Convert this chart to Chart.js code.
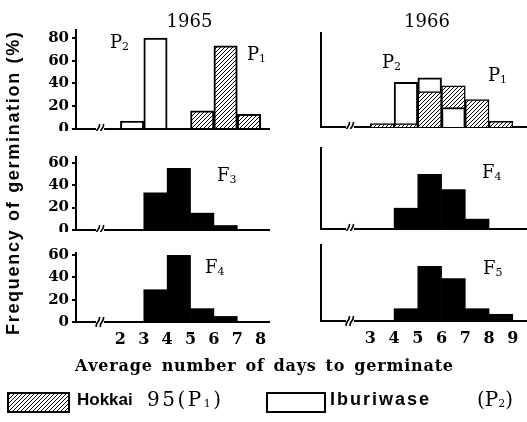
<!DOCTYPE html>
<html>
<head>
<meta charset="utf-8">
<script src="https://cdn.jsdelivr.net/npm/chart.js@4.4.0/dist/chart.umd.min.js"></script>
<style>
  html, body { margin: 0; padding: 0; background: #fff; }
  #fig { position: relative; width: 527px; height: 422px; overflow: hidden; background: #fff; }
  #fig canvas { position: absolute; }
  #ink { left: 0; top: 0; pointer-events: none; }
</style>
</head>
<body>
<div id="fig">
  <canvas id="pA"></canvas>
  <canvas id="pB"></canvas>
  <canvas id="pC"></canvas>
  <canvas id="pD"></canvas>
  <canvas id="pE"></canvas>
  <canvas id="pF"></canvas>
  <canvas id="ink" width="527" height="422"></canvas>
</div>
<script>
// Frequency (%) of seeds by average number of days to germinate, per one-day class.
// Each class is identified by its starting day.
const days1965 = [2, 3, 4, 5, 6, 7];
const days1966 = [3, 4, 5, 6, 7, 8];
const dayTicks1965 = [2, 3, 4, 5, 6, 7, 8];
const dayTicks1966 = [3, 4, 5, 6, 7, 8, 9];
const pctTicksParents = [0, 20, 40, 60, 80];
const pctTicksProgeny = [0, 20, 40, 60];

const hokkai1965 = [null, null, null, 16, 73, 13];
const iburi1965  = [7, 80, null, null, null, null];
const f3_1965    = [null, 33, 55, 15, 4, null];
const f4_1965    = [null, 29, 60, 12, 5, null];

const hokkai1966 = [3, 3, 31, 36, 24, 5];
const iburi1966  = [null, 39, 43, 17, null, null];
const f4_1966    = [null, 19, 50, 36, 9, null];
const f5_1966    = [null, 11, 49, 38, 11, 6];

const INK = '#000';
const SERIF = '"DejaVu Serif", serif';
const SANS = '"Liberation Sans", Arial, sans-serif';

// diagonal hatching used for Hokkai 95
function hatchPattern(ctx) {
  const tile = document.createElement('canvas');
  tile.width = tile.height = 4;
  const c = tile.getContext('2d');
  c.fillStyle = '#fff';
  c.fillRect(0, 0, 4, 4);
  c.strokeStyle = INK;
  c.lineWidth = 1;
  c.beginPath();
  c.moveTo(0, 4); c.lineTo(4, 0);
  c.moveTo(-1, 1); c.lineTo(1, -1);
  c.moveTo(3, 5); c.lineTo(5, 3);
  c.stroke();
  return ctx.createPattern(tile, 'repeat');
}

// broken-axis mark on the day axis
const axisBreak = {
  id: 'axisBreak',
  afterDraw(chart, _args, opts) {
    const { ctx, chartArea } = chart;
    const x = chart.scales.x.getPixelForValue(opts.at);
    const y = chartArea.bottom;
    ctx.save();
    ctx.fillStyle = '#fff';
    ctx.fillRect(x - 4, y - 2, 8, 4);
    ctx.strokeStyle = INK;
    ctx.lineWidth = 1.6;
    for (const dx of [-2.2, 1.8]) {
      ctx.beginPath();
      ctx.moveTo(x + dx - 1.5, y + 5);
      ctx.bezierCurveTo(x + dx - 3, y + 1, x + dx + 3, y - 1, x + dx + 1.5, y - 5);
      ctx.stroke();
    }
    ctx.restore();
  }
};

const columns = {
  y1965: { left: 0,   width: 270, axisW: 76, min: 0.1,  max: 8.4, brk: 1.13, days: days1965, ticks: dayTicks1965, pctLabels: true },
  y1966: { left: 290, width: 237, axisW: 31, min: 0.92, max: 9.6, brk: 2.14, days: days1966, ticks: dayTicks1966, pctLabels: false }
};

const frontOf = (a, b) => a.map((v, i) => (v != null && b[i] != null && v < b[i]) ? v : null);

const panels = [
  { id: 'pA', col: 'y1965', top: 30,  base: 129,   ymax: 87, pct: pctTicksParents, dayLabels: false,
    series: [ { data: iburi1965, kind: 'open', order: 2 }, { data: hokkai1965, kind: 'hatch', order: 1, bw: 2 } ] },
  { id: 'pB', col: 'y1966', top: 33,  base: 127,   ymax: 82, pct: pctTicksParents, dayLabels: false,
    series: [ { data: iburi1966, kind: 'open', order: 3 },
              { data: hokkai1966, kind: 'hatch', order: 2, bw: 1.5 },
              { data: frontOf(iburi1966, hokkai1966), kind: 'open', order: 1 } ] },
  { id: 'pC', col: 'y1965', top: 157, base: 229.5, ymax: 65, pct: pctTicksProgeny, dayLabels: false,
    series: [ { data: f3_1965, kind: 'solid', order: 1 } ] },
  { id: 'pD', col: 'y1966', top: 148, base: 229,   ymax: 74, pct: pctTicksProgeny, dayLabels: false,
    series: [ { data: f4_1966, kind: 'solid', order: 1 } ] },
  { id: 'pE', col: 'y1965', top: 253, base: 322,   ymax: 62, pct: pctTicksProgeny, dayLabels: true,
    series: [ { data: f4_1965, kind: 'solid', order: 1 } ] },
  { id: 'pF', col: 'y1966', top: 245, base: 321,   ymax: 68, pct: pctTicksProgeny, dayLabels: true,
    series: [ { data: f5_1966, kind: 'solid', order: 1 } ] }
];

const PAD_TOP = 10;

panels.forEach(p => {
  const col = columns[p.col];
  const xH = p.dayLabels ? 28 : 2;
  const canvas = document.getElementById(p.id);
  const h = Math.round(p.base - p.top) + PAD_TOP + xH;
  canvas.width = col.width;
  canvas.height = h;
  canvas.style.left = col.left + 'px';
  canvas.style.top = Math.round(p.top - PAD_TOP) + 'px';
  const ctx = canvas.getContext('2d');
  const hatch = hatchPattern(ctx);

  const datasets = p.series.map(s => {
    const pts = [];
    col.days.forEach((d, i) => { if (s.data[i] != null) pts.push({ x: d + 0.5, y: s.data[i] }); });
    const style = s.kind === 'solid'
      ? { backgroundColor: INK, borderColor: INK, borderWidth: 0 }
      : s.kind === 'hatch'
        ? { backgroundColor: hatch, borderColor: INK, borderWidth: s.bw }
        : { backgroundColor: '#fff', borderColor: INK, borderWidth: 2 };
    return Object.assign({ data: pts, order: s.order }, style);
  });

  new Chart(ctx, {
    type: 'bar',
    data: { datasets },
    options: {
      responsive: false,
      animation: false,
      devicePixelRatio: 1,
      layout: { padding: { top: PAD_TOP, left: 0, right: 0, bottom: 0 } },
      datasets: { bar: { grouped: false, barPercentage: 1, categoryPercentage: 1, borderSkipped: 'bottom' } },
      plugins: { legend: { display: false }, tooltip: { enabled: false }, axisBreak: { at: col.brk } },
      scales: {
        x: {
          type: 'linear', min: col.min, max: col.max, offset: false,
          grid: { display: false, drawTicks: false },
          border: { color: INK, width: 2 },
          ticks: { display: p.dayLabels, color: INK, padding: 8, autoSkip: false, maxRotation: 0,
                   font: { family: SERIF, size: 16, weight: 'bold' } },
          afterBuildTicks: s => { s.ticks = col.ticks.map(v => ({ value: v })); },
          afterFit: s => { s.height = xH; s.paddingLeft = 0; s.paddingRight = 0; }
        },
        y: {
          min: 0, max: p.ymax,
          grid: { display: col.pctLabels, drawOnChartArea: false, drawTicks: true, tickLength: 4, color: INK, lineWidth: 2 },
          border: { color: INK, width: 2 },
          ticks: { display: col.pctLabels, color: INK, padding: 3,
                   font: { family: SERIF, size: 15, weight: 'bold' } },
          afterBuildTicks: s => { s.ticks = p.pct.map(v => ({ value: v })); },
          afterFit: s => { s.width = col.axisW; s.paddingTop = 0; s.paddingBottom = 0; }
        }
      }
    },
    plugins: [axisBreak]
  });
});

// ---- titles, panel labels, axis titles and key ----
const ink = document.getElementById('ink').getContext('2d');
ink.fillStyle = INK;

// parts: [text, font, dy]; o.ls = letter spacing, o.width = total width,
// with o.words the extra width goes into the word gaps only
function drawText(ctx, parts, x, y, o = {}) {
  const glyphs = [];
  for (const [t, font, dy = 0] of parts) {
    ctx.font = font;
    for (const ch of t) glyphs.push({ ch, font, dy, w: ctx.measureText(ch).width });
  }
  const ls = o.ls || 0;
  const n = glyphs.length;
  const natural = glyphs.reduce((s, g) => s + g.w, 0) + ls * (n - 1);
  const total = o.width || natural;
  const extra = total - natural;
  if (o.width) {
    if (o.words) {
      const sp = glyphs.filter(g => g.ch === ' ');
      sp.forEach(g => { g.w += extra / sp.length; });
    } else if (n > 1) {
      glyphs.slice(0, -1).forEach(g => { g.w += extra / (n - 1); });
    }
  }
  let cx = o.align === 'center' ? x - total / 2 : x;
  ctx.textAlign = 'left';
  ctx.textBaseline = 'alphabetic';
  for (const g of glyphs) {
    ctx.font = g.font;
    if (g.ch !== ' ') ctx.fillText(g.ch, cx, y + g.dy);
    cx += g.w + ls;
  }
}

const F_TITLE = `18px ${SERIF}`;
drawText(ink, [['1965', F_TITLE]], 189.5, 27, { align: 'center' });
drawText(ink, [['1966', F_TITLE]], 427, 27, { align: 'center' });

const F_P = `18px ${SERIF}`;
const F_SUB = `11px ${SERIF}`;
const tag = (letter, sub, x, y) => drawText(ink, [[letter, F_P], [sub, F_SUB, 2]], x, y);
tag('P', '2', 110, 48);
tag('P', '1', 247, 60);
tag('P', '2', 382, 68);
tag('P', '1', 488, 81);
tag('F', '3', 217, 180.5);
tag('F', '4', 482, 177.5);
tag('F', '4', 205, 273);
tag('F', '5', 483, 274);

// day axis title
drawText(ink, [['Average number of days to germinate', `bold 16px ${SERIF}`]], 264, 371,
         { align: 'center', width: 378, ls: 0.8, words: true });

// percentage axis title
ink.save();
ink.translate(19, 183.5);
ink.rotate(-Math.PI / 2);
drawText(ink, [['Frequency of germination (%)', `bold 18px ${SANS}`]], 0, 0,
         { align: 'center', width: 303, ls: 1.7, words: true });
ink.restore();

// key
ink.save();
ink.fillStyle = hatchPattern(ink);
ink.fillRect(8, 393, 61, 19);
ink.strokeStyle = INK;
ink.lineWidth = 2;
ink.strokeRect(8, 393, 61, 19);
ink.fillStyle = '#fff';
ink.fillRect(267, 393, 58, 19);
ink.strokeRect(267, 393, 58, 19);
ink.restore();
ink.fillStyle = INK;
drawText(ink, [['Hokkai', `bold 17px ${SANS}`]], 77, 405);
drawText(ink, [['95(P', `20px ${SERIF}`], ['1', `11px ${SERIF}`, 1], [')', `20px ${SERIF}`]], 147, 406, { width: 74 });
drawText(ink, [['Iburiwase', `bold 18px ${SANS}`]], 330, 405, { ls: 2 });
drawText(ink, [['(P', `20px ${SERIF}`], ['2', `11px ${SERIF}`, 1], [')', `20px ${SERIF}`]], 477, 406);
</script>
</body>
</html>
